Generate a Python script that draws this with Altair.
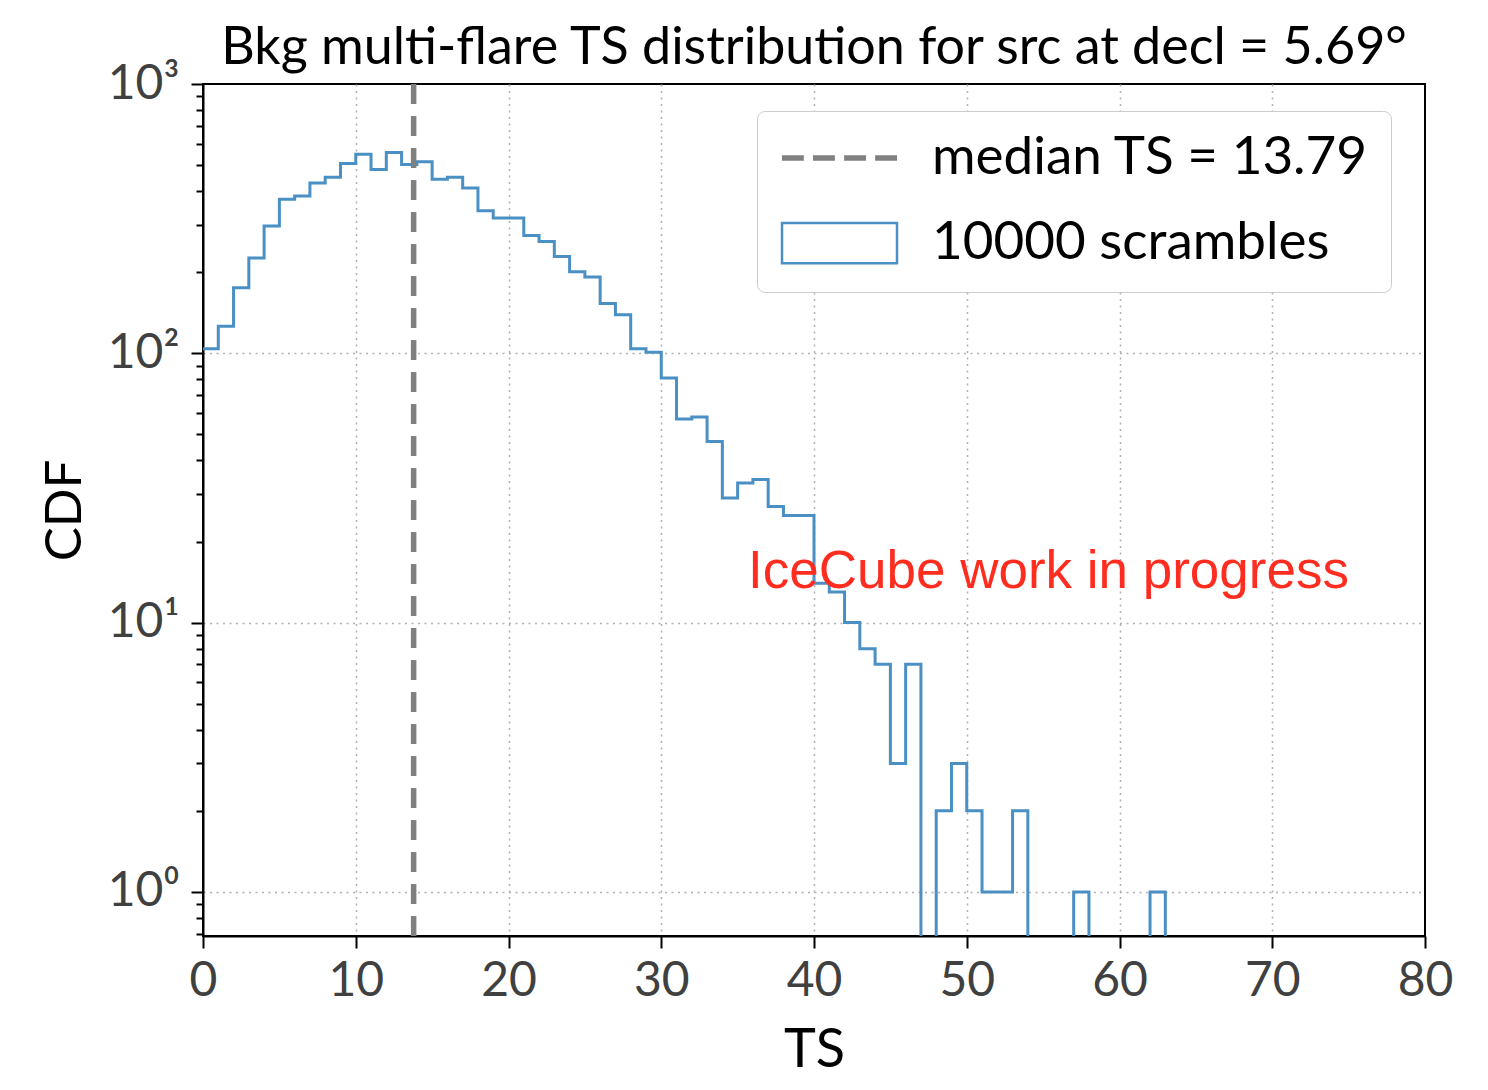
import altair as alt
import pandas as pd

# ---------------- data ----------------
TITLE = "Bkg multi-flare TS distribution for src at decl = 5.69°"
X_TITLE = "TS"
Y_TITLE = "CDF"

BIN_EDGES = list(range(0, 64))          # bin edges 0..63 (unit width)
COUNTS = [
    104, 126, 175, 226, 297, 373, 384, 429, 451, 507,
    549, 481, 557, 502, 514, 443, 451, 411, 338, 318,
    318, 274, 260, 229, 201, 192, 153, 139, 104, 101,
    81, 57, 58, 47, 29, 33, 34, 27, 25, 25,
    14, 13, 10, 8, 7, 3, 7, 0, 2, 3,
    2, 1, 1, 2, 0, 0, 0, 1, 0, 0,
    0, 0, 1,
]
MEDIAN_TS = [13.79]
LEGEND_LABELS = ["median TS = 13.79", "10000 scrambles"]
X_TICKS = [0, 10, 20, 30, 40, 50, 60, 70, 80]
X_DOMAIN = [0, 80]
Y_DOMAIN = [0.686, 1000]
DECADES = [1, 10, 100, 1000]
ANNOT_TEXT = ["IceCube work in progress"]
ANNOT_X = [35.68]
ANNOT_Y = [13.5]

# ---------------- styles ----------------
FONT = "Lato"
BLUE = "#4a90c4"
GREY = "#808080"
DASH_PATH = "M-1,0L-0.62,0M-0.46,0L-0.08,0M0.08,0L0.46,0M0.62,0L1,0"
RECT_PATH = "M-1,-0.35L1,-0.35L1,0.35L-1,0.35Z"

# histogram outline points (step-after), ending on the floor
rows = []
for i, c in enumerate(COUNTS):
    rows.append({"order": i, "edge": BIN_EDGES[i], "count": c})
rows.append({"order": len(COUNTS), "edge": BIN_EDGES[len(COUNTS)], "count": 0})
hist_df = pd.DataFrame(rows)

median_df = pd.DataFrame({"edge": MEDIAN_TS})
legend_df = pd.DataFrame({"series": LEGEND_LABELS})
annot_df = pd.DataFrame({"edge": ANNOT_X, "yplot": ANNOT_Y, "text": ANNOT_TEXT})

# y ticks: decades plus minor ticks
y_tick_values = []
for d in [0.1] + DECADES[:-1]:
    for m in range(1, 10):
        v = round(m * d, 6)
        if Y_DOMAIN[0] <= v <= Y_DOMAIN[1]:
            y_tick_values.append(v)
y_tick_values.append(DECADES[-1])

IS_DECADE = "abs(log(datum.value)/LN10 - round(log(datum.value)/LN10)) < 0.001"
Y_LABEL_EXPR = (
    f"({IS_DECADE}) ? '10' + ['⁰','¹','²','³'][round(log(datum.value)/LN10)] : ''"
)
Y_GRID_TEST = f"({IS_DECADE}) && datum.value < {Y_DOMAIN[1] * 0.999}"
X_GRID_TEST = f"datum.value > {X_DOMAIN[0]} && datum.value < {X_DOMAIN[1]}"

x_scale = alt.Scale(domain=X_DOMAIN, nice=False, zero=False)
y_scale = alt.Scale(type="log", domain=Y_DOMAIN, nice=False)

x_axis = alt.Axis(
    values=X_TICKS, format="d", grid=True, title=X_TITLE,
    tickSize=12, tickWidth=2, tickColor="black",
    domainColor="black", domainWidth=2,
    labelFont=FONT, labelFontSize=48, labelColor="#404040", labelPadding=9,
    labelFlush=False,
    titleFont=FONT, titleFontSize=54, titleFontWeight="normal", titleColor="black",
    titleBaseline="alphabetic", titleY=130,
    gridColor="#b0b0b0", gridDash=[2, 4.5], gridWidth=1.5,
    gridOpacity={"condition": {"test": X_GRID_TEST, "value": 1}, "value": 0},
)
y_axis = alt.Axis(
    values=y_tick_values, grid=True, title=Y_TITLE,
    labelExpr=Y_LABEL_EXPR, labelOverlap=False,
    tickSize={"condition": {"test": IS_DECADE, "value": 12}, "value": 7},
    tickWidth=2, tickColor="black",
    domainColor="black", domainWidth=2,
    labelFont=FONT, labelFontSize=48, labelColor="#404040", labelPadding=12,
    labelBaseline="middle", labelFlush=False,
    titleFont=FONT, titleFontSize=51, titleFontWeight="normal", titleColor="black",
    titleBaseline="alphabetic", titleAngle=270, titleX=-123, titleY=426,
    titleAlign="center",
    gridColor="#b0b0b0", gridDash=[2, 4.5], gridWidth=1.5,
    gridOpacity={"condition": {"test": Y_GRID_TEST, "value": 1}, "value": 0},
)

X_ENC = alt.X("edge:Q", scale=x_scale, axis=x_axis, title=X_TITLE)
Y_ENC = alt.Y("yplot:Q", scale=y_scale, axis=y_axis, title=Y_TITLE)

hist = (
    alt.Chart(hist_df)
    .transform_calculate(yplot="datum.count > 0 ? datum.count : 0.1")
    .mark_line(interpolate="step-after", clip=True, color=BLUE, strokeWidth=3)
    .encode(x=X_ENC, y=Y_ENC, order="order:Q")
)

median_rule = (
    alt.Chart(median_df)
    .mark_rule(color=GREY, strokeWidth=5.5, strokeDash=[20, 12])
    .encode(x=X_ENC)
)

legend_common = dict(
    title=None, orient="none", legendX=554, legendY=27,
    padding=22, fillColor="white", strokeColor="#cccccc", cornerRadius=8,
    labelFont=FONT, labelFontSize=53, labelColor="black", labelOffset=32,
    labelLimit=1200, clipHeight=50, rowPadding=32, symbolSize=13225,
    symbolOpacity=1,
)
legend_layer = (
    alt.Chart(legend_df)
    .mark_point(opacity=0, filled=False)
    .encode(
        color=alt.Color("series:N",
                        scale=alt.Scale(domain=LEGEND_LABELS, range=[GREY, BLUE]),
                        legend=alt.Legend(**legend_common)),
        shape=alt.Shape("series:N",
                        scale=alt.Scale(domain=LEGEND_LABELS, range=[DASH_PATH, RECT_PATH]),
                        legend=alt.Legend(**legend_common)),
        strokeWidth=alt.StrokeWidth("series:N",
                        scale=alt.Scale(domain=LEGEND_LABELS, range=[5.5, 2.5]),
                        legend=alt.Legend(**legend_common)),
    )
)

annot = (
    alt.Chart(annot_df)
    .mark_text(font="Liberation Sans", fontSize=53, color="#ff2d1f",
               align="left", baseline="alphabetic")
    .encode(x=X_ENC, y=Y_ENC, text="text:N")
)

chart = (
    alt.layer(hist, median_rule, legend_layer, annot)
    .properties(
        width=1222, height=852,
        title=alt.TitleParams(TITLE, font=FONT, fontSize=52, fontWeight="normal",
                              color="black", anchor="middle", baseline="alphabetic",
                              offset=19, dy=75, frame="group"),
        autosize=alt.AutoSizeParams(type="none"),
        padding={"left": 195, "top": 76, "right": 55, "bottom": 148},
    )
    .configure(background="white")
    .configure_view(stroke="black", strokeWidth=2)
)

chart.save("out.html", embed_options={"renderer": "svg", "actions": False})
